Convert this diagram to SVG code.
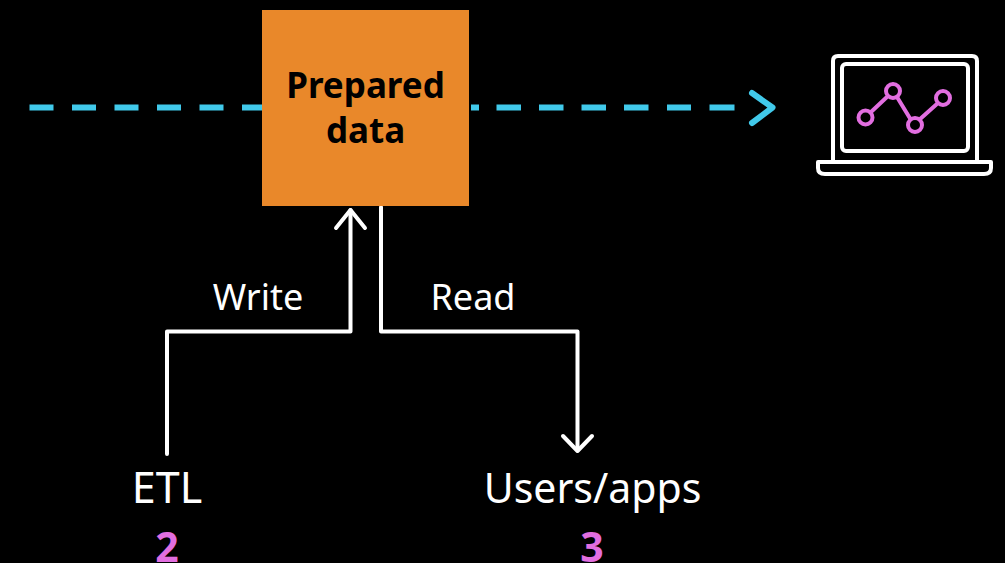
<svg xmlns="http://www.w3.org/2000/svg" width="1005" height="563" viewBox="0 0 1005 563">
<style>
.t{font-family:"Noto Sans","Open Sans",sans-serif;fill:#fff}
.w{fill:none;stroke:#fff;stroke-width:4;stroke-linecap:round;stroke-linejoin:round}
.c{fill:none;stroke:#41c9ea;stroke-width:6}
.n{font-family:"Noto Sans",sans-serif;font-weight:700;font-size:41px;fill:#e26ee0;text-anchor:middle}
.p{fill:none;stroke:#e26ee0;stroke-width:4}
</style>
<rect width="1005" height="563" fill="#000"/>
<g id="connectors">
<path class="c" d="M29.500 107.500H262" stroke-dasharray="24 18.500"/>
<path class="c" d="M471 107.500H479M496.500 107.500H521M539 107.500H563.500M581.500 107.500H606M624 107.500H648.500M667 107.500H691M709.500 107.500H734.500"/>
<path class="c" d="M752 93L772.500 107.500 752 123" stroke-linecap="round" stroke-linejoin="round"/>
<path class="w" d="M167 454V331.500H350.500V210"/>
<path class="w" d="M336 228L350.500 210 365 228"/>
<path class="w" d="M381 207V331.500H577.500V450"/>
<path class="w" d="M563 436L577.500 451 592 436"/>
</g>
<g id="prepared-data">
<rect x="262" y="10" width="207" height="196" fill="#e9882a"/>
<text x="365.500" y="98" font-family="Noto Sans" font-weight="700" font-size="35" fill="#000" text-anchor="middle">Prepared</text>
<text x="365.500" y="143" font-family="Noto Sans" font-weight="700" font-size="35" fill="#000" text-anchor="middle">data</text>
</g>
<g id="laptop">
<path class="w" d="M833 160V61Q833 56 838 56H972Q977 56 977 61V160"/>
<rect class="w" x="842" y="64" width="126" height="87" rx="4"/>
<path class="w" d="M818 162H991V168Q991 174 984 174H825Q818 174 818 168Z"/>
<path class="p" d="M871 112L888 96M897 97L911 120M919 120L938 103"/>
<circle class="p" cx="865.500" cy="117.500" r="7"/>
<circle class="p" cx="893" cy="91" r="7"/>
<circle class="p" cx="915" cy="125" r="7"/>
<circle class="p" cx="943" cy="98" r="7"/>
</g>
<g id="write-label"><text class="t" x="258" y="310" font-size="36" text-anchor="middle">Write</text></g>
<g id="read-label"><text class="t" x="473" y="310" font-size="36" text-anchor="middle">Read</text></g>
<g id="etl">
<text class="t" x="167" y="503" font-size="43" text-anchor="middle">ETL</text>
<text class="n" x="167" y="562">2</text>
</g>
<g id="users-apps">
<text class="t" x="592.500" y="503" font-size="41" text-anchor="middle">Users/apps</text>
<text class="n" x="592" y="562">3</text>
</g>
</svg>
